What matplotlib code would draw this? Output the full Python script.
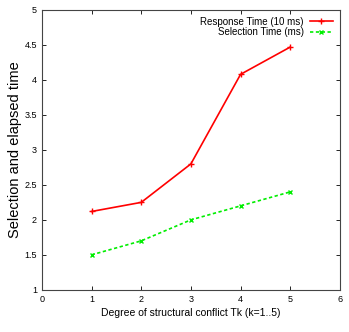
import matplotlib
matplotlib.use('Agg')
import matplotlib.pyplot as plt

# data
k = [1, 2, 3, 4, 5]
response = [2.12, 2.25, 2.8, 4.08, 4.47]
selection = [1.5, 1.7, 2.0, 2.2, 2.4]

plt.rcParams['font.family'] = 'Liberation Sans'
fig = plt.figure(figsize=(3.49, 3.32), dpi=100)
ax = fig.add_axes([0.12, 0.127, 0.854, 0.843])

ax.plot(k, response, color='#ff0000', marker='+', markersize=4, lw=1.2,
        label='Response Time (10 ms)')
ax.plot(k, selection, color='#00ee00', marker='x', markersize=3, lw=1.2,
        ls=(0, (2, 1.5)), label='Selection Time (ms)')

ax.set_xlim(0, 6)
ax.set_ylim(1, 5)
ax.set_xticks(range(0, 7))
ax.set_yticks([1, 1.5, 2, 2.5, 3, 3.5, 4, 4.5, 5])
ax.set_yticklabels(['1', '1.5', '2', '2.5', '3', '3.5', '4', '4.5', '5'])
ax.tick_params(direction='in', top=True, right=True, labelsize=6.5, length=3, width=0.6)
for s in ax.spines.values():
    s.set_linewidth(0.8)
    s.set_color('#444444')

ax.set_xlabel('Degree of structural conflict Tk (k=1..5)', fontsize=7.5, labelpad=3)
ax.set_ylabel('Selection and elapsed time', fontsize=10.5, labelpad=2)

ax.legend(loc='upper right', fontsize=7, frameon=False, markerfirst=False,
          handlelength=2.4, borderaxespad=0.3, labelspacing=0.05, handletextpad=0.6)

fig.savefig('out.png', dpi=100)
